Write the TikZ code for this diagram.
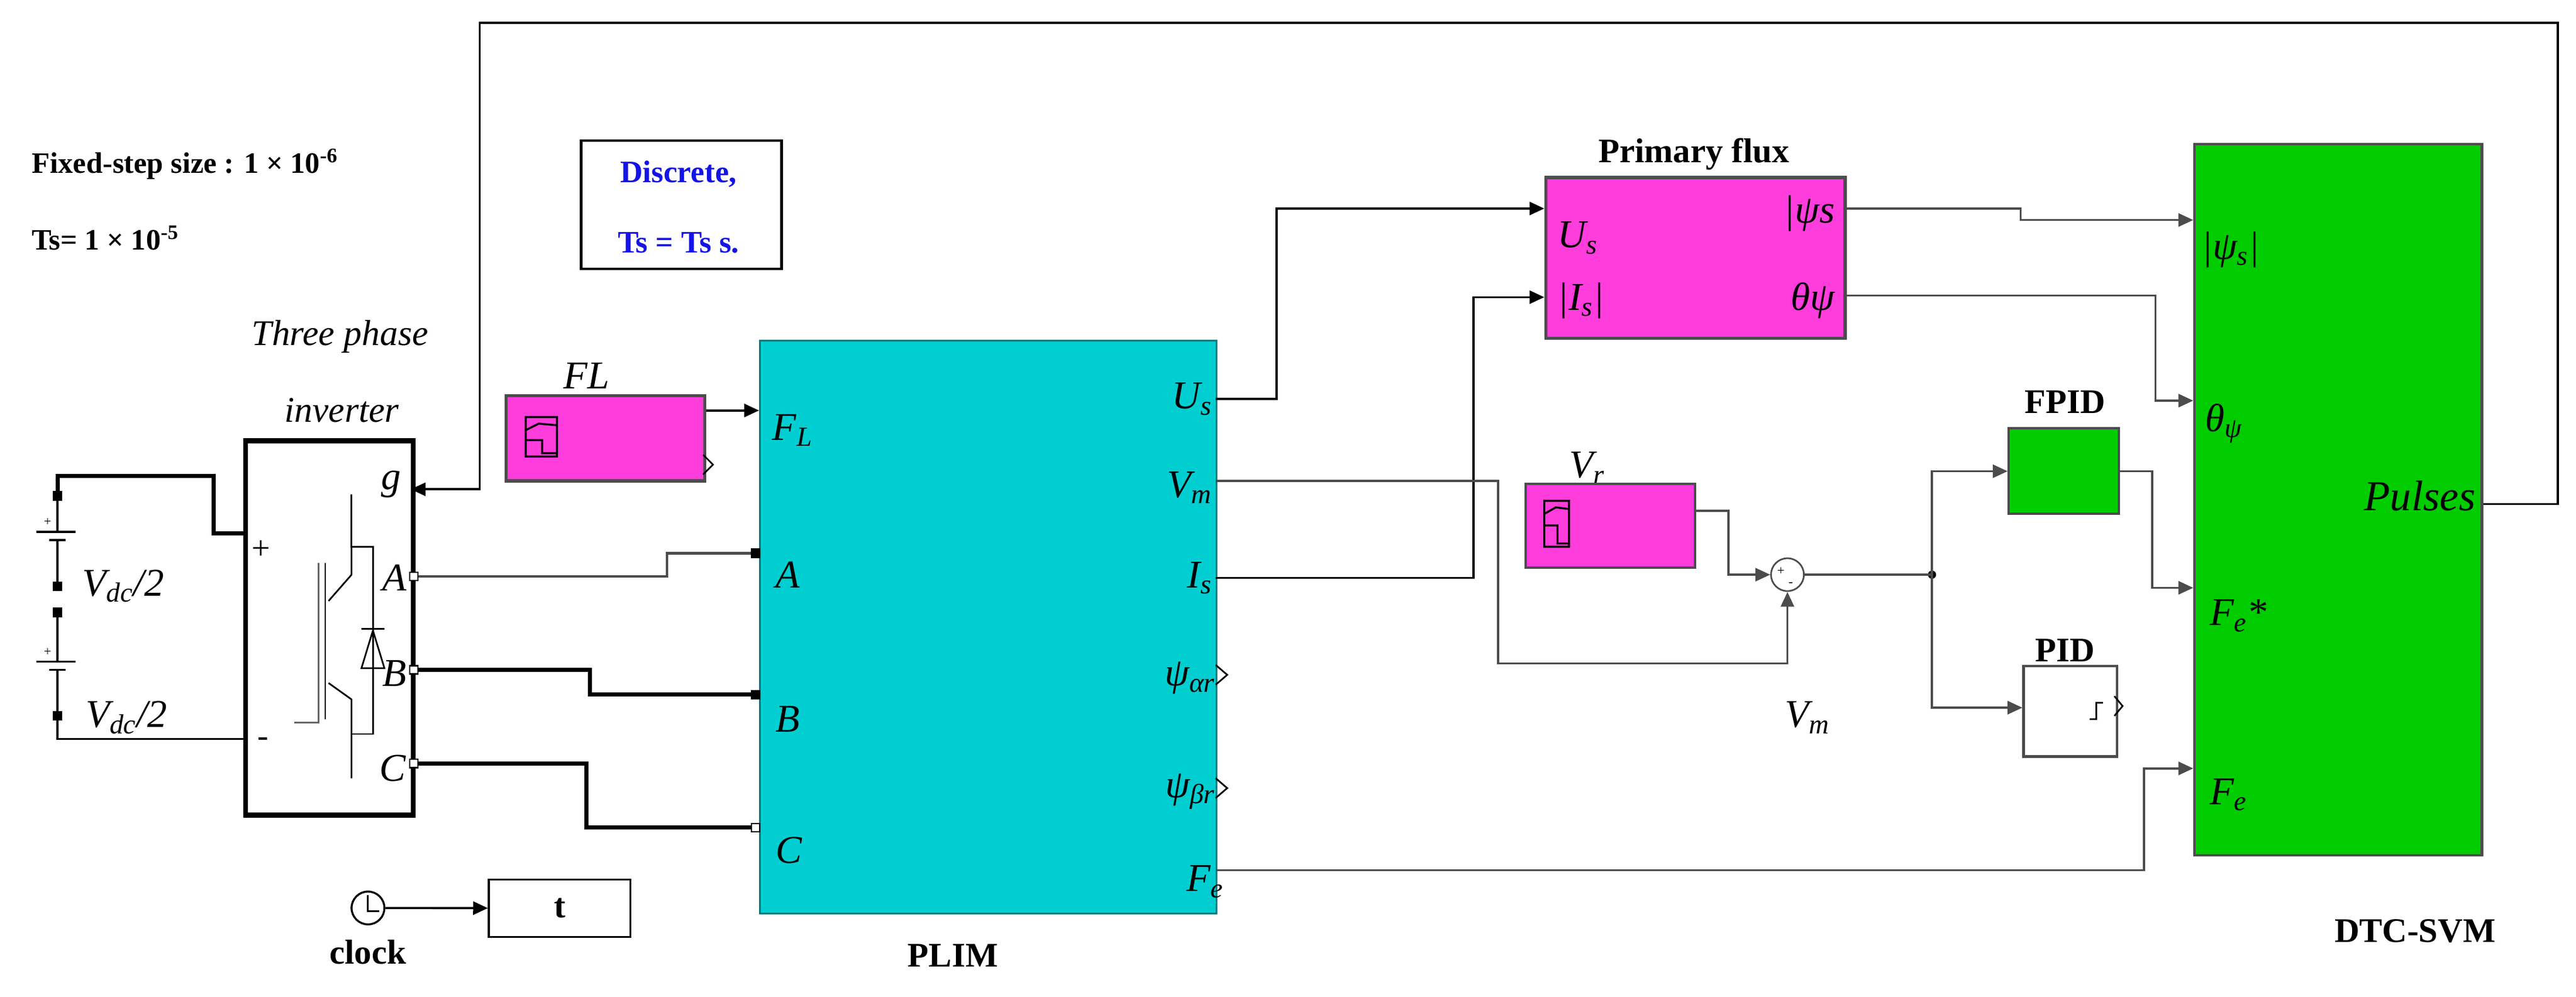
\documentclass[tikz,border=0pt]{standalone}
\usepackage{fontspec}
\setmainfont{Liberation Serif}
\usetikzlibrary{arrows.meta}
\definecolor{mag}{RGB}{255,60,220}
\definecolor{cy}{RGB}{0,206,209}
\definecolor{gr}{RGB}{0,204,0}
\definecolor{blu}{RGB}{20,20,230}
\begin{document}
\begin{tikzpicture}[x=1pt,y=-1pt,
  blk/.style={draw=black!70,line width=2pt,anchor=north west,inner sep=0},
  w/.style={line width=1.3pt,black!70},
  wt/.style={line width=2.5pt,black},
  ar/.style={w,-{Triangle[length=9pt,width=8pt]}},
  lab/.style={font=\fontsize{24}{26}\selectfont\itshape,inner sep=0},
  tit/.style={font=\fontsize{21}{24}\selectfont\bfseries,inner sep=0},
  port/.style={draw,fill=white,minimum size=5pt,inner sep=0,line width=0.8pt}]
\useasboundingbox (0,0) rectangle (1568,607);
% texts
\node[font=\fontsize{18}{20}\selectfont\bfseries,anchor=west] (fs) at (16,100) {Fixed-step size : 1 × 10\textsuperscript{-6}};
\node[font=\fontsize{18}{20}\selectfont\bfseries,anchor=west] (ts) at (16,145) {Ts= 1 × 10\textsuperscript{-5}};
\node[draw,line width=1.5pt,minimum width=122pt,minimum height=78pt,anchor=north west] (disc) at (353,85) {};
\node[font=\fontsize{19}{20}\selectfont\bfseries,text=blu] (d1) at (413,106) {Discrete,};
\node[font=\fontsize{19}{20}\selectfont\bfseries,text=blu] (d2) at (413,148) {Ts = Ts s.};
% inverter
\node[lab,font=\fontsize{22}{24}\selectfont\itshape] (tp) at (207,205) {Three phase};
\node[lab,font=\fontsize{22}{24}\selectfont\itshape] (invl) at (208,250) {inverter};
\node[draw,line width=3pt,minimum width=102pt,minimum height=228pt,anchor=north west] (inv) at (148,267) {};
\node[lab] at (238,295) {g};
\node[lab] at (240,352) {A};
\node[lab] at (240,410) {B};
\node[lab] at (239,468) {C};
\node[font=\fontsize{20}{20}\selectfont] at (159,335) {+};
\node[font=\fontsize{20}{20}\selectfont] at (160,452) {-};
\draw[line width=1pt] (214,301)--(214,333)--(227,333)--(227,447)--(214,447);
\draw[line width=1pt] (214,333)--(214,350)--(200,366);
\draw[line width=1pt] (200,416)--(214,426)--(214,474);
\draw[line width=1pt] (198,343)--(198,438);
\draw[line width=1pt,black!60] (194,343)--(194,440)--(179,440);
\draw[line width=1pt] (220,407)--(234,407)--(227,384)--cycle (220,383)--(234,383);
% ports of inverter
\coordinate (ig) at (250,298);
\coordinate (ip) at (148,325);
\coordinate (im) at (148,450);
\node[port] (iA) at (252,351) {};
\node[port] (iB) at (252,408) {};
\node[port] (iC) at (252,465) {};
% batteries
\node[port,fill=black] (b1) at (35,302) {};
\node[port,fill=black] (b2) at (35,357) {};
\node[port,fill=black] (b3) at (35,373) {};
\node[port,fill=black] (b4) at (35,436) {};
\draw[line width=1.2pt] (b1)--(35,324) (22,324)--(46,324) (30,329)--(40,329) (35,329)--(b2);
\draw[line width=1.2pt] (b3)--(35,403) (22,403)--(46,403) (30,408)--(40,408) (35,408)--(b4);
\node[font=\fontsize{8}{8}\selectfont] at (29,318) {+};
\node[font=\fontsize{8}{8}\selectfont] at (29,397) {+};
\node[lab,anchor=west] at (50,357) {V\textsubscript{dc}/2};
\node[lab,anchor=west] at (52,437) {V\textsubscript{dc}/2};
\draw[wt] (b1)--(35,290)--(130,290)--(130,325)--(ip);
\draw[w,black] (b4)--(35,450)--(im);
% FL
\node[lab] (fll) at (357,229) {FL};
\node[blk,fill=mag,minimum width=121pt,minimum height=52pt] (fl) at (307,240) {};
\draw[line width=1.2pt] (320,254) rectangle (339,278) (320,268)--(330,268)--(330,276)--(339,276) (320,262)--(328,258)--(339,259);
\draw[line width=1pt] (428,277)--(434,283)--(428,289);
% PLIM
\node[blk,fill=cy,draw=cy!60!black,line width=1pt,minimum width=278pt,minimum height=349pt] (plim) at (462,207) {};
\node[tit] (plab) at (580,582) {PLIM};
\node[lab,anchor=west] at (470,262) {F\textsubscript{L}};
\node[lab,anchor=west] at (472,350) {A};
\node[lab,anchor=west] at (472,438) {B};
\node[lab,anchor=west] at (472,518) {C};
\node[lab,anchor=east] at (738,243) {U\textsubscript{s}};
\node[lab,anchor=east] at (738,297) {V\textsubscript{m}};
\node[lab,anchor=east] at (738,352) {I\textsubscript{s}};
\node[lab,anchor=east] at (740,413) {ψ\textsubscript{αr}};
\node[lab,anchor=east] at (740,482) {ψ\textsubscript{βr}};
\node[lab,anchor=east] at (745,537) {F\textsubscript{e}};
\draw[line width=1pt] (740,405)--(747,411)--(740,417) (740,474)--(747,480)--(740,486);
\node[port,fill=black] (pA) at (460,337) {};
\node[port,fill=black] (pB) at (460,423) {};
\node[port] (pC) at (460,504) {};
\draw[ar,black] (fl.east|-0,250)--(plim.west|-0,250);
\draw[wt,line width=1.5pt,black!70] (iA)--(406,351)--(406,337)--(pA);
\draw[wt] (iB)--(359,408)--(359,423)--(pB);
\draw[wt] (iC)--(357,465)--(357,504)--(pC);
% clock
\node[circle,draw,line width=1.2pt,minimum size=20pt,inner sep=0] (clk) at (224,553) {};
\draw[line width=1pt] (224,545)--(224,555)--(231,555);
\node[font=\fontsize{21}{22}\selectfont\bfseries] (clkl) at (224,580) {clock};
\node[draw,line width=1.3pt,minimum width=86pt,minimum height=35pt,anchor=north west] (t) at (297,535) {};
\node[font=\fontsize{21}{22}\selectfont\bfseries] at (t) {t};
\draw[ar,black] (clk)--(t);
% primary flux
\node[tit] (pfl) at (1031,94) {Primary flux};
\node[blk,fill=mag,minimum width=182pt,minimum height=98pt] (pf) at (940,107) {};
\node[lab,anchor=west] at (948,145) {U\textsubscript{s}};
\node[lab,anchor=west] at (948,183) {|I\textsubscript{s}|};
\node[lab,anchor=east] at (1117,130) {|ψs};
\node[lab,anchor=east] at (1117,183) {θψ};
\draw[ar,black] (740,243)--(777,243)--(777,127)--(pf.west|-0,127);
\draw[ar,black] (740,352)--(897,352)--(897,181)--(pf.west|-0,181);
% Vr, sum
\node[lab] (vrl) at (966,285) {V\textsubscript{r}};
\node[blk,fill=mag,line width=1.5pt,minimum width=103pt,minimum height=51pt] (vr) at (928,294) {};
\draw[line width=1.2pt] (940,305) rectangle (955,333) (940,320)--(948,320)--(948,331)--(955,331) (940,313)--(947,309)--(955,310);
\node[circle,draw,black!70,line width=1pt,minimum size=20pt,inner sep=0] (sum) at (1088,350) {};
\node[font=\fontsize{8}{9}\selectfont] at (1084,348) {+};
\node[font=\fontsize{8}{9}\selectfont] at (1090,356) {-};
\draw[ar] (vr.east|-0,311)--(1052,311)--(1052,350)--(sum.west);
\draw[ar] (740,293)--(912,293)--(912,404)--(1088,404)--(sum.south);
\node[lab] (vml) at (1100,437) {V\textsubscript{m}};
% FPID, PID
\node[tit] (fpl) at (1257,245) {FPID};
\node[blk,fill=gr,line width=1.5pt,minimum width=67pt,minimum height=52pt] (fpid) at (1222,260) {};
\node[tit] (pidl) at (1257,396) {PID};
\node[blk,fill=white,line width=1.5pt,minimum width=57pt,minimum height=55pt] (pid) at (1231,405) {};
\draw[line width=1pt] (1272,438)--(1276,438)--(1276,428)--(1280,428) (1287,424)--(1292,430)--(1287,436);
\coordinate (jn) at (1176,350);
\fill (jn) circle (2.5pt);
\draw[w] (sum.east)--(jn);
\draw[ar] (jn)--(1176,287)--(fpid.west|-0,287);
\draw[ar] (jn)--(1176,431)--(pid.west|-0,431);
% DTC-SVM
\node[blk,fill=gr,line width=1.5pt,minimum width=175pt,minimum height=433pt] (dtc) at (1335,87) {};
\node[tit] (dtcl) at (1470,567) {DTC-SVM};
\node[lab,anchor=west] at (1340,152) {|ψ\textsubscript{s}|};
\node[lab,anchor=west] at (1342,258) {θ\textsubscript{ψ}};
\node[lab,anchor=west] at (1345,375) {F\textsubscript{e}*};
\node[lab,anchor=west] at (1345,484) {F\textsubscript{e}};
\node[lab,anchor=east,font=\fontsize{26}{28}\selectfont\itshape] at (1507,302) {Pulses};
\draw[ar] (pf.east|-0,127)--(1230,127)--(1230,134)--(dtc.west|-0,134);
\draw[ar] (pf.east|-0,180)--(1312,180)--(1312,244)--(dtc.west|-0,244);
\draw[ar] (fpid.east|-0,287)--(1310,287)--(1310,358)--(dtc.west|-0,358);
\draw[ar] (740,530)--(1305,530)--(1305,468)--(dtc.west|-0,468);
\draw[ar,black] (dtc.east|-0,307)--(1557,307)--(1557,14)--(292,14)--(292,298)--(ig);
\end{tikzpicture}
\end{document}
